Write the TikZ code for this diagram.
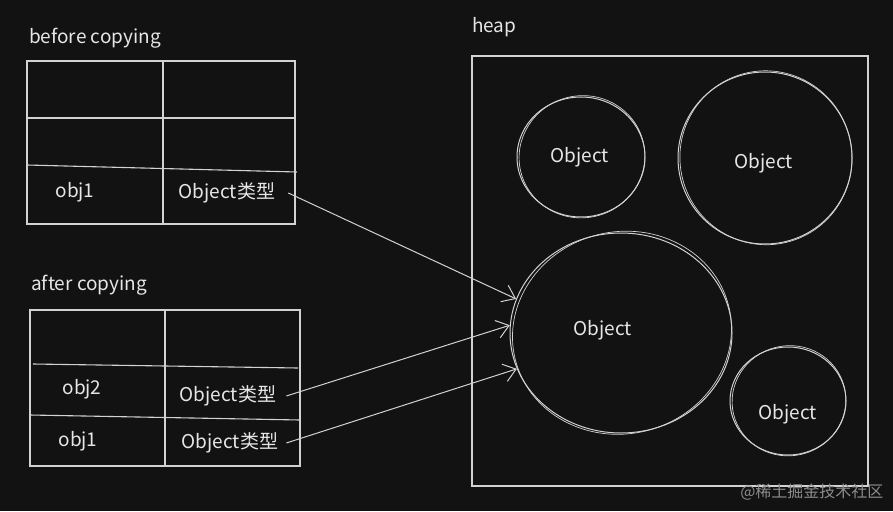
\documentclass[tikz,border=0pt]{standalone}
\usepackage{fontspec}
\setmainfont{Noto Sans CJK SC}
\usepackage{xcolor}
\usetikzlibrary{arrows.meta,positioning,shapes.geometric}
\definecolor{bgdark}{HTML}{121212}
\definecolor{chalk}{HTML}{D2D2D2}
\definecolor{chalktext}{HTML}{E6E6E6}
\definecolor{markgray}{HTML}{8C8C8C}

\begin{document}
\begin{tikzpicture}[
      x=1pt, y=-1pt,
      lbl/.style={text=chalktext, font=\fontsize{19}{22}\selectfont, inner sep=1pt},
      sketch/.style={draw=chalk, line width=1.1pt},
      blob/.style={ellipse, draw=chalk, line width=1pt, inner sep=0pt},
      arr/.style={draw=chalk, line width=1pt, -{Straight Barb[length=12pt,width=18pt]}}
    ]
    \fill[bgdark] (0,0) rectangle (893,511);
    \useasboundingbox (0,0) rectangle (893,511);

    % before copying
    \node[lbl,anchor=west] (before) at (28,38) {before copying};
    \draw[sketch] (27,61) rectangle (295,224);
    \draw[sketch] (163,61) -- (163,224);
    \draw[sketch] (27,118) -- (295,118);
    \draw[sketch] (27,165) -- (297,172);
    \node[lbl] (bobj1) at (75,192) {obj1};
    \node[lbl] (btype1) at (227,193) {Object类型};

    % after copying
    \node[lbl,anchor=west] (after) at (30,285) {after copying};
    \draw[sketch] (30,310) rectangle (300,466);
    \draw[sketch] (165,310) -- (165,466);
    \draw[sketch] (33,364) -- (298,368);
    \draw[sketch] (30,415) -- (300,420);
    \node[lbl] (aobj2) at (82,389) {obj2};
    \node[lbl] (atype2) at (228,396) {Object类型};
    \node[lbl] (aobj1) at (78,441) {obj1};
    \node[lbl] (atype1) at (230,443) {Object类型};

    % heap
    \node[lbl,anchor=west] (heap) at (471,27) {heap};
    \draw[sketch] (472,56) rectangle (868,486);
    \foreach \cx/\cy/\rx/\ry/\nm in {581/157/64/60/objA, 765/158/87/86/objB,
                                     621/333/111/100/objC, 788/401/58/54/objD} {
      \node[blob, minimum width={2*\rx*1pt}, minimum height={2*\ry*1pt}] (\nm) at (\cx,\cy) {};
      \draw[chalk, line width=0.7pt, rotate around={14:(\cx,\cy)}]
        (\cx+1,\cy) ellipse ({(\rx-1)*1pt} and {(\ry+1)*1pt});
    }
    \node[lbl] (objAtxt) at (580,157) {Object};
    \node[lbl] (objBtxt) at (764,163) {Object};
    \node[lbl] (objCtxt) at (603,330) {Object};
    \node[lbl] (objDtxt) at (788,414) {Object};

    \draw[arr] ([xshift=12pt]btype1.east) -- (objC.162);
    \draw[arr] ([xshift=9pt]atype2.east) -- (objC.176);
    \draw[arr] ([xshift=7pt]atype1.east) -- (objC.199);

    \node[text=markgray, font=\fontsize{16}{18}\selectfont, anchor=east] (mark) at (887,492) {@稀土掘金技术社区};
  \end{tikzpicture}
\end{document}
